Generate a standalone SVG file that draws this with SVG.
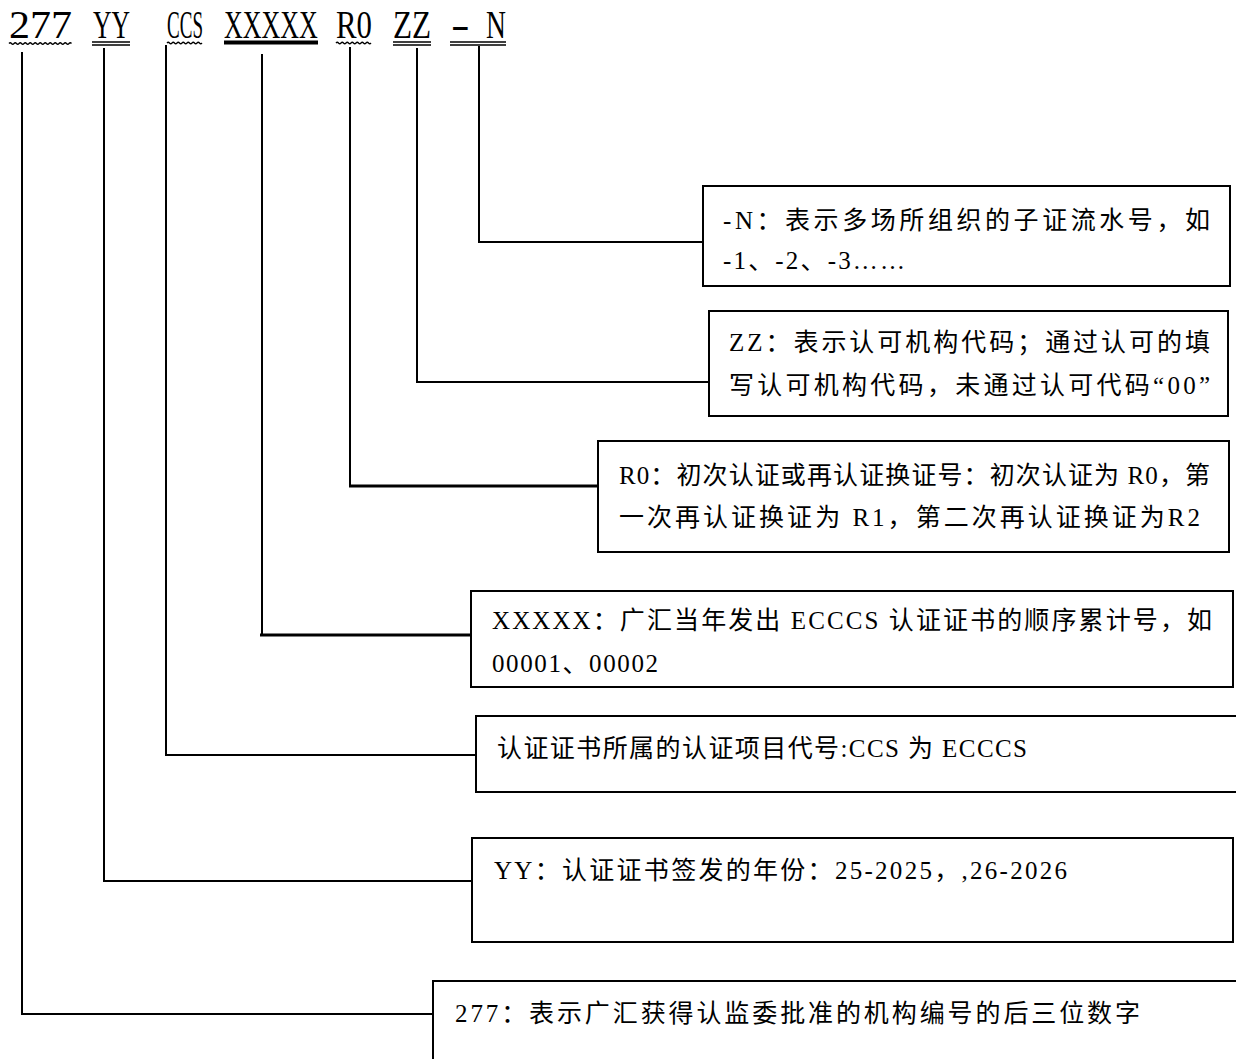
<svg xmlns="http://www.w3.org/2000/svg" width="1236" height="1059" viewBox="0 0 1236 1059">
<style>
.box{fill:#fff;stroke:#000;stroke-width:2}
.t{font-family:"Liberation Serif","Noto Sans CJK SC",serif;font-size:25px;fill:#000}
.h{font-family:"Liberation Serif","Noto Sans CJK SC",serif;font-size:40px;fill:#000}
.c{fill:none;stroke:#000;stroke-width:2}
.c3{fill:none;stroke:#000;stroke-width:3}
.u{fill:none;stroke:#000;stroke-width:1.3}
</style>
<rect width="1236" height="1059" fill="#fff"/>
<g id="title">
<text class="h" transform="translate(9,38) scale(1.05,1)">277</text>
<text class="h" transform="translate(93,38) scale(0.64,1)">YY</text>
<text class="h" transform="translate(167,38) scale(0.476,1)">CCS</text>
<text class="h" transform="translate(224,38) scale(0.65,1)">XXXXX</text>
<text class="h" transform="translate(336,38) scale(0.77,1)">R0</text>
<text class="h" transform="translate(393,38) scale(0.78,1)">ZZ</text>
<text class="h" transform="translate(451,38) scale(1.4,1)">-</text>
<text class="h" transform="translate(486,38) scale(0.69,1)">N</text>
<path class="u" d="M9 43.5 q1.25 -1.5 2.5 0 t2.5 0 t2.5 0 t2.5 0 t2.5 0 t2.5 0 t2.5 0 t2.5 0 t2.5 0 t2.5 0 t2.5 0 t2.5 0 t2.5 0 t2.5 0 t2.5 0 t2.5 0 t2.5 0 t2.5 0 t2.5 0 t2.5 0 t2.5 0 t2.5 0 t2.5 0 t2.5 0 t2.5 0"/>
<path class="u" d="M92 42 H130 M92 45 H130"/>
<path class="u" d="M167 43 q1.25 -1.5 2.5 0 t2.5 0 t2.5 0 t2.5 0 t2.5 0 t2.5 0 t2.5 0 t2.5 0 t2.5 0 t2.5 0 t2.5 0 t2.5 0 t2.5 0 t2.5 0"/>
<path d="M224 42.5 H318" stroke="#000" stroke-width="4"/>
<path class="u" d="M336 43 q1.25 -1.5 2.5 0 t2.5 0 t2.5 0 t2.5 0 t2.5 0 t2.5 0 t2.5 0 t2.5 0 t2.5 0 t2.5 0 t2.5 0 t2.5 0 t2.5 0 t2.5 0"/>
<path class="u" d="M393 42 H431 M393 45 H431"/>
<path class="u" d="M450 42 H506 M450 45 H506"/>
</g>
<g id="connectors">
<path class="c" d="M22 52 V1014 H433"/>
<path class="c" d="M104 48 V881 H472"/>
<path class="c" d="M166 45 V755 H476"/>
<path class="c" d="M262 54 V634"/>
<path class="c3" d="M260 635 H471"/>
<path class="c" d="M350 47 V485"/>
<path class="c3" d="M349 486 H598"/>
<path class="c" d="M417 48 V382 H709"/>
<path class="c" d="M479 46 V242 H703"/>
</g>
<g id="node-n">
<rect class="box" x="703" y="186" width="527" height="100"/>
<text class="t" x="723" y="229" textLength="487" lengthAdjust="spacing">-N：表示多场所组织的子证流水号，如</text>
<text class="t" x="723" y="269" textLength="182" lengthAdjust="spacing">-1、-2、-3……</text>
</g>
<g id="node-zz">
<rect class="box" x="709" y="311" width="519" height="105"/>
<text class="t" x="729" y="351" textLength="481" lengthAdjust="spacing">ZZ：表示认可机构代码；通过认可的填</text>
<text class="t" x="729" y="394" textLength="481" lengthAdjust="spacing">写认可机构代码，未通过认可代码“00”</text>
</g>
<g id="node-r0">
<rect class="box" x="598" y="441" width="631" height="111"/>
<text class="t" x="619" y="484" textLength="591" lengthAdjust="spacing">R0：初次认证或再认证换证号：初次认证为 R0，第</text>
<text class="t" x="619" y="526" textLength="581" lengthAdjust="spacing">一次再认证换证为 R1，第二次再认证换证为R2</text>
</g>
<g id="node-xxxxx">
<rect class="box" x="471" y="591" width="762" height="96"/>
<text class="t" x="492" y="629" textLength="720" lengthAdjust="spacing">XXXXX：广汇当年发出 ECCCS 认证证书的顺序累计号，如</text>
<text class="t" x="492" y="672" textLength="166" lengthAdjust="spacing">00001、00002</text>
</g>
<g id="node-ccs">
<rect class="box" x="476" y="716" width="770" height="76"/>
<text class="t" x="497" y="757" textLength="530" lengthAdjust="spacing">认证证书所属的认证项目代号:CCS 为 ECCCS</text>
</g>
<g id="node-yy">
<rect class="box" x="472" y="838" width="761" height="104"/>
<text class="t" x="494" y="879" textLength="573" lengthAdjust="spacing">YY：认证证书签发的年份：25-2025，,26-2026</text>
</g>
<g id="node-277">
<rect class="box" x="433" y="981" width="813" height="90"/>
<text class="t" x="455" y="1022" textLength="685" lengthAdjust="spacing">277：表示广汇获得认监委批准的机构编号的后三位数字</text>
</g>
</svg>
